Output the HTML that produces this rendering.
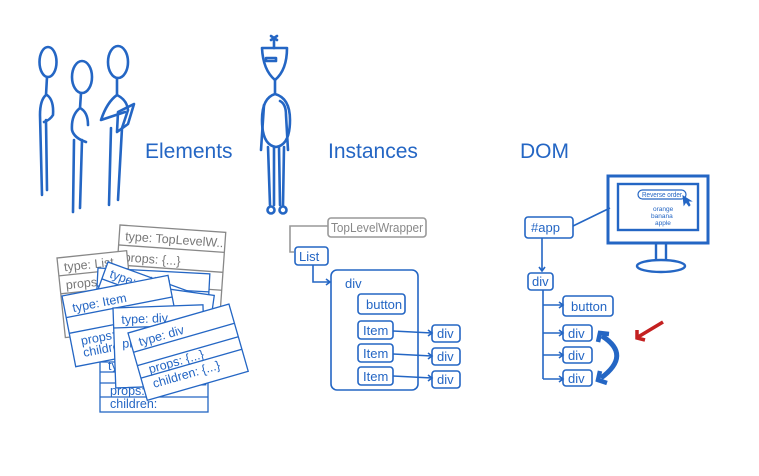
<!DOCTYPE html>
<html><head><meta charset="utf-8"><style>
html,body{margin:0;padding:0;background:#fff;}
svg{display:block;}
text{font-family:"Liberation Sans",sans-serif;}
</style></head><body>
<svg width="759" height="476" viewBox="0 0 759 476" xmlns="http://www.w3.org/2000/svg">
<rect width="759" height="476" fill="#fff"/>
<g fill="none" stroke="#2466c4" stroke-width="2.6" stroke-linecap="round" stroke-linejoin="round">
<!-- person 1 -->
<ellipse cx="48" cy="62" rx="8.5" ry="15"/>
<path d="M47 77 L46 95 Q40 100 40 115 L42 195"/>
<path d="M47 95 Q54 100 53 115 Q50 120 44 122"/>
<path d="M46 120 L47 190"/>
<!-- person 2 -->
<ellipse cx="82" cy="77" rx="10" ry="16"/>
<path d="M81 93 L80 108 Q71 115 72 130 Q74 138 86 142"/>
<path d="M80 108 Q88 112 88 125"/>
<path d="M74 140 L73 212 M82 140 L80 208"/>
<!-- person 3 -->
<ellipse cx="118" cy="62" rx="10" ry="16"/>
<path d="M117 78 L117 95 Q107 102 101 120 L125 112"/>
<path d="M117 95 Q127 100 128 110 L122 128 L118 200"/>
<path d="M111 128 L109 205"/>
<path d="M118 112 L134 104 L128 124 L117 132 Z"/>
<!-- robot -->
<path d="M262 48 L287 48 Q287 70 275 80 Q263 70 262 48 Z"/>
<rect x="266" y="58" width="10" height="3"/>
<path d="M274 48 L274 38 M271 36 L277 40 M277 36 L271 40"/>
<path d="M275 80 L275 94 Q262 98 262 120 Q262 145 276 147 Q290 145 290 120 Q290 98 275 94"/>
<path d="M264 105 L261 150"/>
<path d="M280 101 Q286 104 286 115 L288 150"/>
<path d="M268 147 L270 205 M274 147 L274 205 M279 147 L280 205 M284 147 L283 205"/>
<circle cx="271" cy="210" r="3.5"/><circle cx="283" cy="210" r="3.5"/>
</g>
<g fill="#2466c4" font-size="21">
<text x="145" y="158">Elements</text>
<text x="328" y="158">Instances</text>
<text x="520" y="158">DOM</text>
</g>

<!-- Elements cards -->
<g font-size="12.5" stroke-width="1.3">
<g transform="translate(120,225) rotate(4)">
<rect x="0" y="0" width="106" height="95" fill="#fff" stroke="#888"/>
<line x1="0" y1="20" x2="106" y2="20" stroke="#888"/><line x1="0" y1="40" x2="106" y2="40" stroke="#888"/><line x1="0" y1="58" x2="106" y2="58" stroke="#888"/>
<text x="6" y="15" fill="#777">type:  TopLevelW..</text><text x="6" y="36" fill="#777">props: {...}</text>
</g>
<g transform="translate(57,258) rotate(-6)">
<rect x="0" y="0" width="70" height="80" fill="#fff" stroke="#888"/>
<line x1="0" y1="18" x2="70" y2="18" stroke="#888"/><line x1="0" y1="36" x2="70" y2="36" stroke="#888"/>
<text x="6" y="14" fill="#777">type:  List</text><text x="6" y="32" fill="#777">props</text>
</g>
<g fill="#fff" stroke="#2466c4">
<g transform="translate(98,268) rotate(3)"><rect width="112" height="90"/><line x1="0" y1="18" x2="112" y2="18"/><line x1="0" y1="36" x2="112" y2="36"/><text x="8" y="14" fill="#2466c4" stroke="none">type: button</text></g>
<g transform="translate(108,262) rotate(20)"><rect width="90" height="70"/><line x1="0" y1="18" x2="90" y2="18"/><text x="6" y="14" fill="#2466c4" stroke="none">type:</text></g>
<g transform="translate(140,285) rotate(8)"><rect width="75" height="50"/><line x1="0" y1="18" x2="75" y2="18"/></g>
<g transform="translate(100,350)"><rect width="108" height="62"/><line x1="0" y1="12" x2="108" y2="12"/><line x1="0" y1="22" x2="108" y2="22"/><line x1="0" y1="33" x2="108" y2="33"/><line x1="0" y1="47" x2="108" y2="47"/><text x="8" y="20" fill="#2466c4" stroke="none">ty</text><text x="10" y="45" fill="#2466c4" stroke="none">props:</text><text x="10" y="58" fill="#2466c4" stroke="none">children:</text></g>
<g transform="translate(62,296) rotate(-11)"><rect width="108" height="72"/><line x1="0" y1="22" x2="108" y2="22"/><line x1="0" y1="38" x2="108" y2="38"/><text x="8" y="18" fill="#2466c4" stroke="none">type:  Item</text><text x="10" y="52" fill="#2466c4" stroke="none">props:</text><text x="10" y="64" fill="#2466c4" stroke="none">childre</text></g>
<g transform="translate(113,308) rotate(-2)"><rect width="90" height="80"/><line x1="0" y1="20" x2="90" y2="20"/><text x="8" y="16" fill="#2466c4" stroke="none">type:  div</text><text x="8" y="40" fill="#2466c4" stroke="none">pro</text></g>
<g transform="translate(128,333) rotate(-16)"><rect width="105" height="70"/><line x1="0" y1="20" x2="105" y2="20"/><line x1="0" y1="34" x2="105" y2="34"/><line x1="0" y1="47" x2="105" y2="47"/><text x="8" y="16" fill="#2466c4" stroke="none">type:  div</text><text x="10" y="45" fill="#2466c4" stroke="none">props: {...}</text><text x="10" y="60" fill="#2466c4" stroke="none">children: {...}</text></g>
</g>
</g>

<!-- Instances -->
<g fill="none" stroke-width="1.6" font-size="13">
<rect x="328" y="218" width="98" height="19" rx="3" stroke="#999"/>
<text x="331" y="232" fill="#888" stroke="none" textLength="92" lengthAdjust="spacingAndGlyphs">TopLevelWrapper</text>
<path d="M328 226 L290 226 L290 252 L294 252" stroke="#999"/>
<g stroke="#2466c4">
<rect x="295" y="247" width="33" height="18" rx="3"/>
<path d="M313 265 L313 282 L330 282 M326 279 L330 282 L326 285"/>
<rect x="331" y="270" width="87" height="120" rx="6"/>
<rect x="358" y="294" width="47" height="20" rx="3"/>
<rect x="358" y="321" width="35" height="18" rx="3"/>
<rect x="358" y="344" width="35" height="18" rx="3"/>
<rect x="358" y="367" width="35" height="18" rx="3"/>
<rect x="432" y="325" width="28" height="17" rx="3"/>
<rect x="432" y="348" width="28" height="17" rx="3"/>
<rect x="432" y="371" width="28" height="17" rx="3"/>
<path d="M393 331 L432 333 M428 330 L432 333 L428 336"/>
<path d="M393 354 L432 356 M428 353 L432 356 L428 359"/>
<path d="M393 376 L432 378 M428 375 L432 378 L428 381"/>
</g>
<g fill="#2466c4" stroke="none">
<text x="299" y="261">List</text><text x="345" y="288">div</text>
<text x="366" y="309">button</text><text x="363" y="335">Item</text><text x="363" y="358">Item</text><text x="363" y="381">Item</text>
<text x="437" y="338">div</text><text x="437" y="361">div</text><text x="437" y="384">div</text>
</g>
</g>

<!-- DOM -->
<g fill="none" stroke="#2466c4" stroke-width="1.6" font-size="13">
<rect x="525" y="217" width="48" height="21" rx="3"/>
<path d="M573 226 L610 208"/>
<path d="M542 238 L542 271 M539 267 L542 271 L545 267"/>
<rect x="528" y="273" width="25" height="17" rx="3"/>
<path d="M543 290 L543 379 M543 305 L563 305 M543 333 L563 333 M543 355 L563 355 M543 379 L563 379"/>
<path d="M559 302 L563 305 L559 308 M559 330 L563 333 L559 336 M559 352 L563 355 L559 358 M559 376 L563 379 L559 382"/>
<rect x="563" y="296" width="50" height="20" rx="3"/>
<rect x="563" y="325" width="29" height="16" rx="3"/>
<rect x="563" y="347" width="29" height="16" rx="3"/>
<rect x="563" y="370" width="29" height="16" rx="3"/>
<g stroke-width="3">
<rect x="608" y="176" width="100" height="67"/>
<rect x="618" y="184" width="80" height="46" stroke-width="2.4"/>
<path d="M656 243 L656 261 M666 243 L666 261" stroke-width="2.4"/>
<ellipse cx="661" cy="266" rx="24" ry="6" stroke-width="2.4"/>
</g>
<rect x="638" y="190" width="48" height="9" rx="4.5" stroke-width="1.2"/>
<path d="M683 196 L684 205 L686 202 L689 206 L690 205 L688 201 L691 201 Z" fill="#2466c4" stroke-width="1"/>
<path d="M602 336 Q632 355 601 378" stroke-width="5"/>
<path d="M598 342 L600 333 L609 334 M607 383 L598 380 L600 371" stroke-width="4.5"/>
<path d="M663 322 L638 337 M637 330 L637 338 L645 340" stroke="#c42020" stroke-width="3.5"/>
<g fill="#2466c4" stroke="none">
<text x="531" y="232">#app</text><text x="532" y="286">div</text><text x="571" y="311">button</text>
<text x="568" y="338">div</text><text x="568" y="360">div</text><text x="568" y="383">div</text>
<text x="642" y="197" font-size="7" textLength="40" lengthAdjust="spacingAndGlyphs">Reverse order</text>
<text x="653" y="211" font-size="6.5">orange</text><text x="651" y="218" font-size="6.5">banana</text><text x="655" y="225" font-size="6.5">apple</text>
</g>
</g>
</svg>
</body></html>
